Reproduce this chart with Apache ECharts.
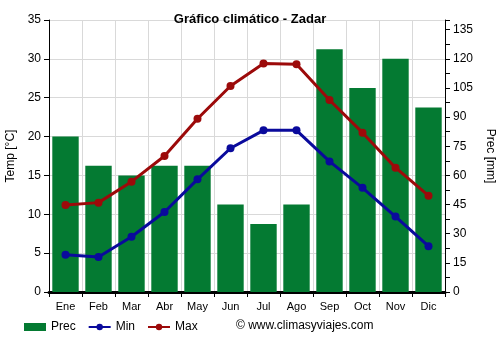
<!DOCTYPE html>
<html>
<head>
<meta charset="utf-8">
<script src="https://cdn.jsdelivr.net/npm/echarts@6/dist/echarts.min.js"></script>
<style>
  html, body { margin: 0; padding: 0; background: #fff; }
  #chart { width: 500px; height: 350px; }
</style>
</head>
<body>
<div id="chart"></div>
<script>
const months = ["Ene", "Feb", "Mar", "Abr", "May", "Jun", "Jul", "Ago", "Sep", "Oct", "Nov", "Dic"];
const prec = [80, 65, 60, 65, 65, 45, 35, 45, 125, 105, 120, 95];
const tMin = [4.8, 4.5, 7.1, 10.3, 14.5, 18.5, 20.8, 20.8, 16.8, 13.4, 9.7, 5.9];
const tMax = [11.2, 11.5, 14.2, 17.5, 22.3, 26.5, 29.4, 29.3, 24.7, 20.5, 16.0, 12.4];

const chart = echarts.init(document.getElementById("chart"));

const font = "Arial, 'Liberation Sans', sans-serif";

const option = {
  animation: false,
  textStyle: { fontFamily: font },
  title: {
    text: "Gráfico climático - Zadar",
    left: "center",
    top: 8,
    textStyle: { fontSize: 13, fontWeight: "bold", color: "#000", fontFamily: font },
  },
  grid: { left: 49, right: 55, top: 20, bottom: 58, outerBoundsMode: "none", containLabel: false },
  legend: {
    top: 321,
    left: 24,
    padding: 0,
    itemGap: 12,
    itemWidth: 22,
    itemHeight: 8,
    textStyle: { fontSize: 12, color: "#000" },
    data: [
      { name: "Prec", icon: "rect" },
      { name: "Min" },
      { name: "Max" },
    ],
  },
  graphic: [
    {
      type: "text",
      left: 236,
      top: 320,
      style: { text: "© www.climasyviajes.com", fontSize: 12, fill: "#000", fontFamily: font },
    },
  ],
  xAxis: {
    type: "category",
    data: months,
    axisLine: { lineStyle: { color: "#000", width: 3 } },
    axisTick: { show: true, alignWithLabel: false, lineStyle: { color: "#000" }, length: 5 },
    axisLabel: { color: "#000", fontSize: 11, margin: 9 },
    splitLine: { show: true, lineStyle: { color: "#d9d9d9" } },
  },
  yAxis: [
    {
      type: "value",
      min: 0,
      max: 35,
      interval: 5,
      name: "Temp [°C]",
      nameLocation: "middle",
      nameGap: 29,
      nameTextStyle: { color: "#000", fontSize: 12 },
      axisLine: { show: true, lineStyle: { color: "#000" } },
      axisTick: { show: true, lineStyle: { color: "#000" } },
      axisLabel: { color: "#000", fontSize: 12 },
      splitLine: { show: true, lineStyle: { color: "#d9d9d9" } },
    },
    {
      type: "value",
      min: 0,
      max: 140,
      interval: 15,
      name: "Prec [mm]",
      nameLocation: "middle",
      nameGap: 37,
      nameRotate: -90,
      nameTextStyle: { color: "#000", fontSize: 12 },
      axisLine: { show: true, lineStyle: { color: "#000" } },
      axisTick: { show: true, lineStyle: { color: "#000" } },
      minorTick: { show: true, splitNumber: 2, length: 5, lineStyle: { color: "#000" } },
      axisLabel: { color: "#000", fontSize: 12, showMaxLabel: false },
      splitLine: { show: false },
    },
  ],
  series: [
    {
      name: "Prec",
      type: "bar",
      yAxisIndex: 1,
      data: prec,
      barCategoryGap: "20%",
      itemStyle: { color: "#047a32" },
    },
    {
      name: "Min",
      type: "line",
      data: tMin,
      symbol: "circle",
      symbolSize: 8,
      lineStyle: { color: "#0a0a9c", width: 3 },
      itemStyle: { color: "#0a0a9c" },
      z: 4,
    },
    {
      name: "Max",
      type: "line",
      data: tMax,
      symbol: "circle",
      symbolSize: 8,
      lineStyle: { color: "#9c0a0a", width: 3 },
      itemStyle: { color: "#9c0a0a" },
      z: 4,
    },
  ],
};

chart.setOption(option);
</script>
</body>
</html>
